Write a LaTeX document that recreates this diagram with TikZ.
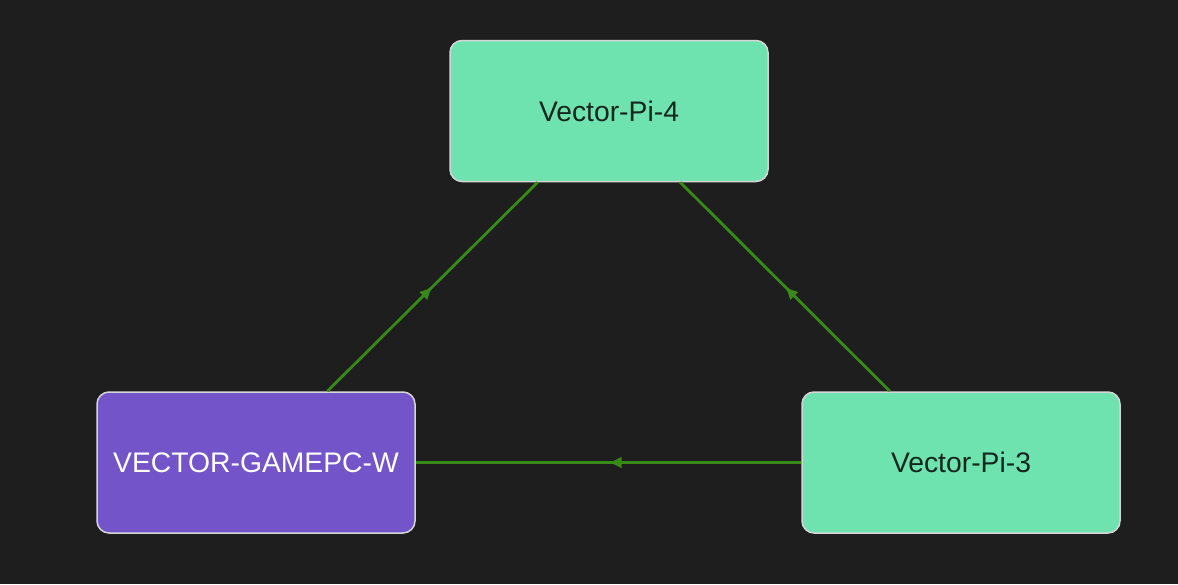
\documentclass[tikz,border=0pt]{standalone}
\usepackage{fontspec}
\setmainfont{Liberation Sans}
\usetikzlibrary{decorations.markings,arrows.meta}

\newlength{\du}
\setlength{\du}{1pt}

\definecolor{bgcolor}{HTML}{1E1E1E}
\definecolor{picolor}{HTML}{6EE2AF}
\definecolor{pccolor}{HTML}{7454C9}
\definecolor{edgecolor}{HTML}{378A18}
\definecolor{rimcolor}{HTML}{D6D6D6}
\definecolor{pitext}{HTML}{15261C}

\tikzset{
  hostbox/.style={draw=rimcolor, line width=1.5\du, rounded corners=12\du,
    minimum width=318\du, minimum height=141\du, inner sep=0pt,
    font=\fontsize{28.3}{31}\selectfont},
  pibox/.style={hostbox, fill=picolor, text=pitext},
  pcbox/.style={hostbox, fill=pccolor, text=white},
  link/.style={draw=edgecolor, line width=2.8\du, postaction={decorate},
    decoration={markings,
      mark=at position 0.5 with {\arrow{Latex[length=13pt,width=12pt]}}}}
}

\begin{document}
\begin{tikzpicture}[x=\du,y=-\du]
% canvas
\fill[bgcolor] (0,0) rectangle (1178,584);
\useasboundingbox (0,0) rectangle (1178,584);

% hosts
\node[pibox] (pi4) at (609,111) {Vector-Pi-4};
\node[pcbox] (gamepc) at (256,462.5) {VECTOR-GAMEPC-W};
\node[pibox] (pi3) at (961,462.5) {Vector-Pi-3};

% links
\draw[link] (gamepc) -- (pi4);
\draw[link] (pi3) -- (pi4);
\draw[link] (pi3) -- (gamepc);
\end{tikzpicture}
\end{document}
